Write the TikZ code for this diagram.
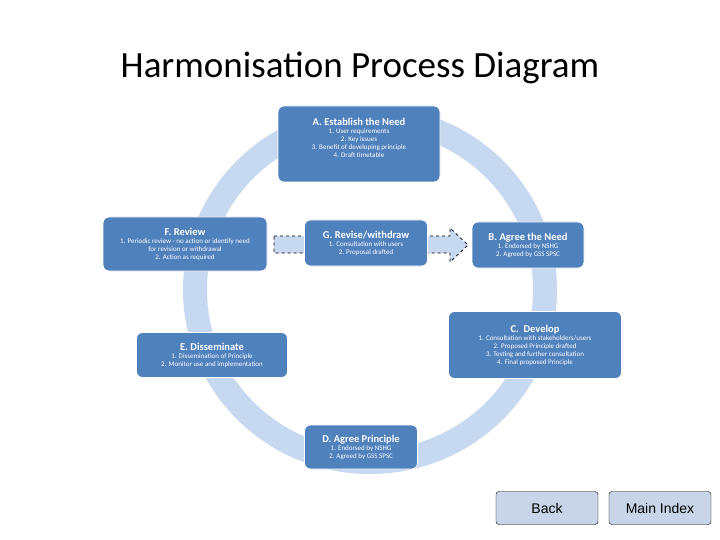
\documentclass[tikz,border=0pt]{standalone}
\usepackage{fontspec}
\setmainfont{Carlito}
\setsansfont{Liberation Sans}
\definecolor{boxblue}{RGB}{79,129,189}
\definecolor{ringblue}{RGB}{198,217,240}
\definecolor{btn}{RGB}{200,212,232}
\begin{document}
\begin{tikzpicture}[x=1pt,y=-1pt,
  stage/.style={draw=white,line width=0.8pt,fill=boxblue,rounded corners=6pt,text=white,align=center,inner sep=2pt,font=\fontsize{7}{8}\selectfont},
  btnbox/.style={draw=black,fill=btn,rounded corners=3pt,minimum width=102pt,minimum height=33pt,font=\sffamily\fontsize{14}{16}\selectfont}]
\useasboundingbox (0,0) rectangle (720,540);
\fill[white] (0,0) rectangle (720,540);
\node (title) at (360,68) {\fontsize{37}{40}\selectfont Harmonisation Process Diagram};
\draw[ringblue,line width=24pt] (370,290) ellipse [x radius=175, y radius=172];
\draw[dashed,thick,fill=ringblue] (274,236) -- (450,236) -- (450,228) -- (468,245) -- (450,262) -- (450,253) -- (274,253) -- cycle;
\newcommand{\hd}[1]{{\fontsize{10.5}{12}\selectfont\bfseries #1}\\}
\node[stage,minimum width=162pt,minimum height=76pt] (A) at (359,144) {\hd{A. Establish the Need}1. User requirements\\2. Key issues\\3. Benefit of developing principle\\4. Draft timetable\\[4pt]};
\node[stage,minimum width=164pt,minimum height=54pt] (F) at (185,244) {\hd{F. Review}1. Periodic review - no action or identify need\\for revision or withdrawal\\2. Action as required};
\node[stage,minimum width=123pt,minimum height=46pt] (G) at (366,243) {\hd{G. Revise/withdraw}1. Consultation with users\\2. Proposal drafted};
\node[stage,minimum width=112pt,minimum height=46pt] (B) at (528,245) {\hd{B. Agree the Need}1. Endorsed by NSHG\\2. Agreed by GSS SPSC};
\node[stage,minimum width=173pt,minimum height=67pt] (C) at (535,345) {\hd{C.\ \ Develop}1. Consultation with stakeholders/users\\2. Proposed Principle drafted\\3. Testing and further consultation\\4. Final proposed Principle};
\node[stage,minimum width=151pt,minimum height=45pt] (E) at (212,355) {\hd{E. Disseminate}1. Dissemination of Principle\\2. Monitor use and implementation};
\node[stage,minimum width=113pt,minimum height=44pt] (D) at (361,447) {\hd{D. Agree Principle}1. Endorsed by NSHG\\2. Agreed by GSS SPSC};
\node[btnbox] (back) at (547,508) {Back};
\node[btnbox] (main) at (660,508) {Main Index};
\end{tikzpicture}
\end{document}
